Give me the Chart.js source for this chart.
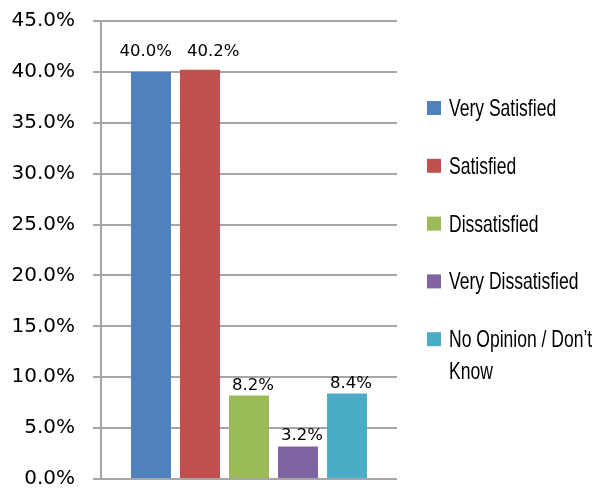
<!DOCTYPE html>
<html>
<head>
<meta charset="utf-8">
<script src="https://cdn.jsdelivr.net/npm/chart.js@4/dist/chart.umd.min.js"></script>
<style>
  html, body { margin: 0; padding: 0; background: #fff; }
</style>
</head>
<body>
<canvas id="myChart" width="612" height="489"></canvas>
<script>
const categories = ["Satisfaction"];
const seriesNames = ["Very Satisfied", "Satisfied", "Dissatisfied", "Very Dissatisfied", "No Opinion / Don’t Know"];
const seriesValues = [40.0, 40.2, 8.2, 3.2, 8.4];
const seriesColors = ["#4F81BD", "#C0504D", "#9BBB59", "#8064A2", "#4BACC6"];
const yTicks = [0, 5, 10, 15, 20, 25, 30, 35, 40, 45];

const gridColor = "#a6a6a6";

// value labels above each bar; labels that would collide get pushed apart and lifted
const barLabels = {
  id: "barLabels",
  afterDatasetsDraw(chart) {
    const c = chart.ctx;
    c.save();
    c.font = "16.5px 'DejaVu Sans', sans-serif";
    c.fillStyle = "#000";
    c.textAlign = "center";
    c.textBaseline = "bottom";
    const items = chart.data.datasets.map((ds, i) => {
      const bar = chart.getDatasetMeta(i).data[0];
      const text = ds.data[0].toFixed(1) + "%";
      return { text, x: bar.x + 4, y: bar.y - 2, w: c.measureText(text).width };
    });
    for (let i = 1; i < items.length; i++) {
      const a = items[i - 1], b = items[i];
      const need = (a.w + b.w) / 2 + 15;
      const gap = b.x - a.x;
      if (gap < need && Math.abs(a.y - b.y) < 20) {
        const d = (need - gap) / 2;
        a.x -= d; b.x += d;
        const yy = Math.min(a.y, b.y) - 8;
        a.y = yy; b.y = yy;
      }
    }
    items.forEach(it => c.fillText(it.text, it.x, it.y));
    c.restore();
  }
};

// legend on the right, Excel style, narrow text
const sideLegend = {
  id: "sideLegend",
  afterDraw(chart) {
    const c = chart.ctx;
    const x = 427, textX = 449, top = 108, step = 57.8, lineH = 32, squeeze = 0.73;
    const maxW = (chart.width - textX - 1) / squeeze;
    c.save();
    c.font = "24px 'Liberation Sans', Arial, sans-serif";
    c.textBaseline = "alphabetic";
    chart.data.datasets.forEach((ds, i) => {
      const cy = top + i * step;
      c.fillStyle = ds.backgroundColor;
      c.fillRect(x, cy - 7, 14, 14);
      c.fillStyle = "#000";
      const words = ds.label.split(" ");
      let lines = [], cur = "";
      words.forEach(w => {
        const t = cur ? cur + " " + w : w;
        if (c.measureText(t).width > maxW && cur) { lines.push(cur); cur = w; }
        else cur = t;
      });
      lines.push(cur);
      lines.forEach((ln, j) => {
        c.save();
        c.translate(textX, cy + 8 + j * lineH);
        c.scale(squeeze, 1);
        c.fillText(ln, 0, 0);
        c.restore();
      });
    });
    c.restore();
  }
};

new Chart(document.getElementById("myChart"), {
  type: "bar",
  data: {
    labels: categories,
    datasets: seriesNames.map((name, i) => ({
      label: name,
      data: [seriesValues[i]],
      backgroundColor: seriesColors[i],
      categoryPercentage: 0.828,
      barPercentage: 0.816,
    })),
  },
  options: {
    responsive: false,
    animation: false,
    layout: {
      padding: { left: 11, right: 215, top: 21, bottom: 10 },
    },
    plugins: {
      legend: { display: false },
      tooltip: { enabled: false },
    },
    scales: {
      x: { display: false },
      y: {
        min: 0,
        max: 45,
        afterBuildTicks(axis) {
          axis.ticks = yTicks.map(v => ({ value: v }));
        },
        afterFit(axis) {
          axis.width = 90;
          axis.paddingTop = 0;
          axis.paddingBottom = 0;
        },
        ticks: {
          color: "#000",
          padding: 18,
          font: { family: "'DejaVu Sans', sans-serif", size: 20 },
          callback: v => v.toFixed(1) + "%",
        },
        grid: { color: gridColor, lineWidth: 2, tickLength: 8 },
        border: { color: gridColor, width: 2 },
      },
    },
  },
  plugins: [barLabels, sideLegend],
});
</script>
</body>
</html>
